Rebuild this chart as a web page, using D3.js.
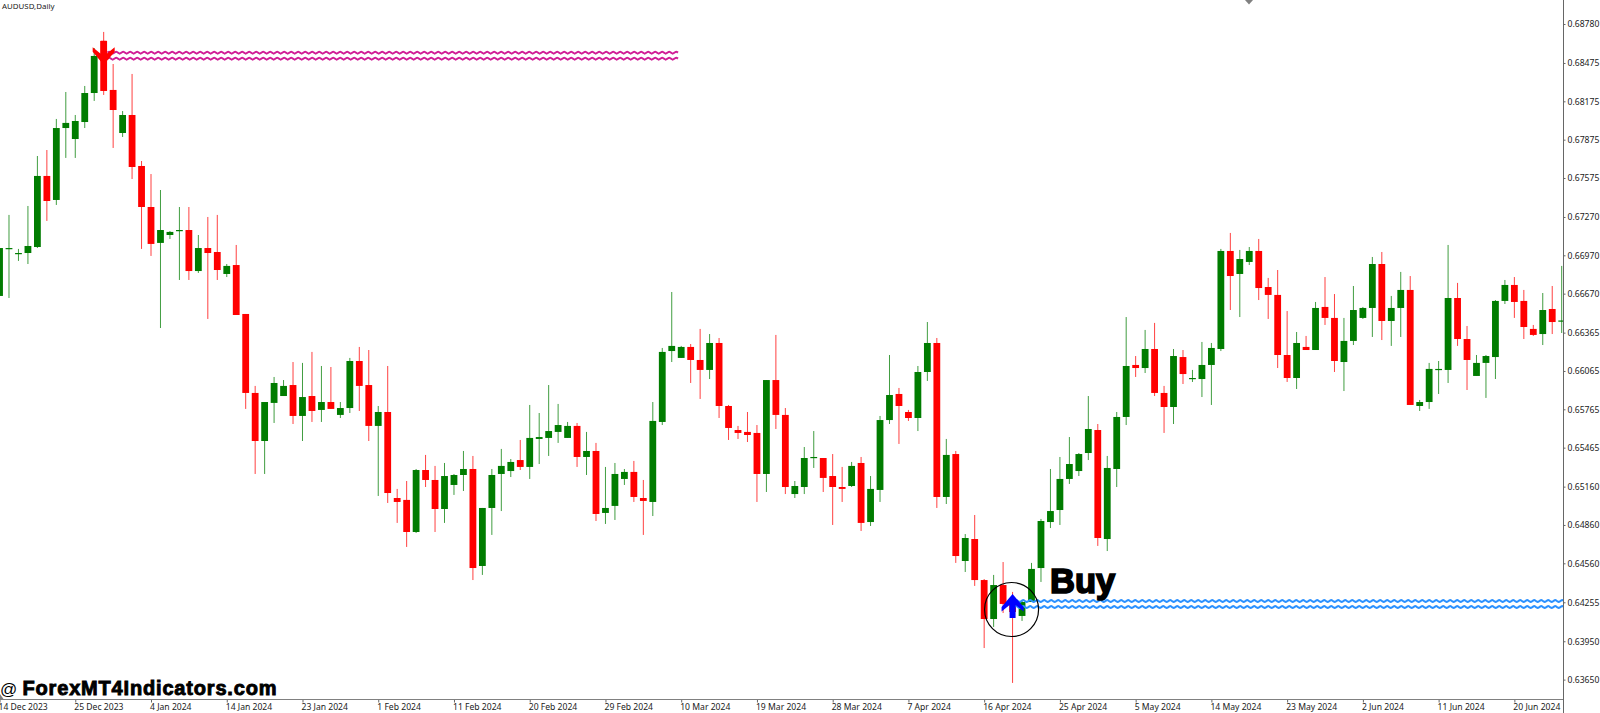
<!DOCTYPE html>
<html><head><meta charset="utf-8">
<script src="https://cdn.jsdelivr.net/npm/d3@7"></script>
<style>html,body{margin:0;padding:0;background:#fff;overflow:hidden}svg{display:block}</style>
</head><body><div id="chart"></div>
<script>
// Daily prices in points (1 point = 0.00001)
const opens=[66652,67020,66980,66988,67035,67591,67403,67966,67880,68013,68240,68647,68264,67927,68068,67669,67348,67067,67129,67160,67168,66847,67027,66996,66824,66894,66511,65893,65517,65815,65869,65955,65713,65869,65760,65822,65721,65775,66143,65955,65635,65744,65071,65056,64805,65290,65212,64985,65173,65251,65298,64539,64993,65259,65282,65368,65314,65533,65541,65588,65541,65635,65392,65439,64954,65009,65220,65275,65071,65040,65666,66221,66167,66253,66151,66073,66284,65791,65603,65588,65580,65259,65994,65721,65102,65157,65384,65384,65243,65157,65165,65345,64883,65134,65681,65885,65744,65697,66057,66284,65079,65415,64578,64750,64429,64124,64390,64249,64148,64257,64523,64883,64977,65220,65282,65423,65603,64750,65298,65705,66112,66088,66237,65893,65783,66174,66002,66002,66112,66237,67004,66824,66918,67004,66722,66660,66190,66010,66253,66229,66566,66480,66135,66300,66480,66558,66902,66456,66558,66699,65791,65822,66073,66073,66636,66315,66026,66128,66174,66613,66738,66613,66394,66354,66550,66452];
const highs=[67027,67286,67020,67356,67747,67794,68037,68248,68068,68295,68592,68718,68467,68099,68389,67708,67606,67481,67160,67348,67348,67129,67270,67286,66902,67051,66511,65948,65822,66018,65994,66135,66128,66214,66104,66096,65822,66167,66253,66229,65791,66104,65142,65204,65298,65408,65322,65345,65259,65439,65400,64993,65298,65455,65376,65525,65799,65736,65955,65807,65666,65658,65588,65502,65314,65345,65298,65361,65212,65822,66245,66683,66261,66276,66394,66354,66323,65799,65635,65744,65642,65994,66347,65775,65204,65470,65595,65384,65415,65314,65353,65392,65243,65713,66190,65932,65760,66104,66448,66323,65533,65439,64789,64938,64437,64469,64570,64336,64273,64563,64907,65298,65392,65548,65423,65869,65650,65400,65744,66487,66182,66386,66441,65948,66237,66229,66073,66292,66284,67020,67145,67012,67035,67098,66793,66855,66534,66370,66339,66605,66800,66667,66480,66730,66566,66957,66996,66652,66840,66808,65838,66128,66143,67051,66754,66417,66190,66190,66620,66777,66800,66699,66425,66675,66730,66887];
const lows=[66652,66636,66926,66902,67027,67239,67364,67732,67732,67966,68178,68225,67810,67896,67567,67020,66965,66401,67098,66777,66777,66832,66472,66777,66800,66503,65768,65259,65259,65658,65869,65650,65517,65666,65666,65768,65697,65736,65752,65517,65087,65032,64876,64688,64797,65157,64805,64876,65095,65126,64429,64469,64782,64969,65235,65290,65220,65337,65400,65502,65541,65314,65251,64891,64868,64899,65173,65040,64782,64930,65642,66135,66167,65971,65846,66002,65697,65525,65533,65509,65040,65118,65611,65102,65071,65102,65306,65118,64860,65040,65157,64813,64852,65040,65650,65494,65674,65595,65987,64993,65024,64563,64492,64383,63897,64062,64171,63624,64109,64257,64414,64836,64860,65181,65243,65368,64696,64656,65157,65642,66018,66049,65869,65580,65650,65963,65979,65861,65799,66221,66542,66487,66894,66620,66472,66088,65979,65924,66229,66229,66425,66057,65908,66268,66472,66331,66307,66261,66331,65799,65752,65768,65885,65971,66261,65916,66026,65854,66002,66589,66480,66315,66339,66268,66354,66362];
const closes=[67027,67027,66988,67043,67591,67395,67966,68006,68021,68240,68530,68256,68107,68068,67661,67348,67059,67168,67153,67168,66847,67027,66988,66855,66887,66503,65893,65517,65822,65971,65948,65713,65861,65752,65822,65768,65775,66143,65948,65635,65744,65110,65040,64805,65290,65212,64985,65243,65251,65298,64523,64993,65251,65322,65353,65314,65541,65548,65595,65642,65635,65392,65439,64946,64993,65259,65275,65079,65048,65674,66214,66261,66253,66151,66073,66284,65791,65619,65580,65564,65259,65994,65721,65157,65165,65384,65392,65228,65157,65142,65322,64876,65142,65681,65877,65791,65697,66057,66284,65079,65408,64617,64758,64429,64124,64390,64242,64179,64257,64516,64891,64969,65220,65337,65415,65611,64758,65306,65705,66104,66088,66237,65893,65783,66182,66041,66010,66112,66245,67004,66808,66941,67004,66714,66660,66190,66010,66284,66229,66558,66480,66143,66300,66542,66558,66902,66456,66558,66699,65799,65822,66081,66081,66636,66315,66151,66128,66182,66613,66738,66605,66409,66347,66542,66448,66460];
// Axis labels
const priceTicks=[68780,68475,68175,67875,67575,67270,66970,66670,66365,66065,65765,65465,65160,64860,64560,64255,63950,63650];
const dateLabels=["14 Dec 2023","25 Dec 2023","4 Jan 2024","14 Jan 2024","23 Jan 2024","1 Feb 2024","11 Feb 2024","20 Feb 2024","29 Feb 2024","10 Mar 2024","19 Mar 2024","28 Mar 2024","7 Apr 2024","16 Apr 2024","25 Apr 2024","5 May 2024","14 May 2024","23 May 2024","2 Jun 2024","11 Jun 2024","20 Jun 2024"];
const dateTickIdx=dateLabels.map((_,i)=>i*8);
// Indicator levels
const sellLevels=[68556,68509], buyLevels=[64265,64218];
const sellSpan=[11.4,71.8], buySpan=[107.2,165.5];
const sellIdx=11, sellPrice=68462, buyIdx=107, buyPrice=64320;

const W=1600,H=713,axisX=1563.5,axisY=699.5;
const x=d3.scaleLinear().domain([0,165]).range([-0.47,1561.7]);
const y=d3.scaleLinear().domain([68780,63650]).range([24,679.6]);
const GREEN="#007c00",RED="#ff0000";
const svg=d3.select("#chart").append("svg").attr("width",W).attr("height",H).attr("viewBox",`0 0 ${W} ${H}`);
svg.append("defs").append("clipPath").attr("id","plot").append("rect").attr("x",0).attr("y",0).attr("width",axisX).attr("height",axisY);
const plot=svg.append("g").attr("clip-path","url(#plot)");
const data=opens.map((o,i)=>({i,o,h:highs[i],l:lows[i],c:closes[i],up:closes[i]>=o}));
const col=d=>d.up?GREEN:RED;

plot.append("g").selectAll("line").data(data).join("line")
 .attr("x1",d=>x(d.i)).attr("x2",d=>x(d.i)).attr("y1",d=>y(d.h)).attr("y2",d=>y(d.l))
 .attr("stroke",col).attr("stroke-width",1).attr("stroke-opacity",.75);
plot.append("g").selectAll("rect").data(data).join("rect")
 .attr("x",d=>x(d.i)-3.4).attr("width",6.8)
 .attr("y",d=>y(Math.max(d.o,d.c))).attr("height",d=>Math.max(1.2,Math.abs(y(d.o)-y(d.c))))
 .attr("fill",col);

function wave(p,span){
 const x0=x(span[0]),x1=x(span[1]),yy=y(p),pts=[];
 for(let px=x0,k=0;px<=x1;px+=1.75,k++) pts.push([px,yy+[0,-1,0,1][k%4]]);
 return d3.line().curve(d3.curveMonotoneX)(pts);
}
plot.append("g").selectAll("path").data(sellLevels).join("path").attr("d",p=>wave(p,sellSpan))
 .attr("fill","none").attr("stroke","#d01e96").attr("stroke-width",2);
plot.append("g").selectAll("path").data(buyLevels).join("path").attr("d",p=>wave(p,buySpan))
 .attr("fill","none").attr("stroke","#2a90ff").attr("stroke-width",2);

// signal arrows
const arrow=(px,py,s)=>d3.line()([[0,0],[11,13*s],[11,17.5*s],[3,11*s],[3,24*s],[-3,24*s],[-3,11*s],[-11,17.5*s],[-11,13*s]].map(q=>[px+q[0],py+q[1]]))+"Z";
svg.append("path").attr("d",arrow(x(sellIdx),y(sellPrice),-1)).attr("fill",RED);
svg.append("path").attr("d",arrow(x(buyIdx),y(buyPrice),1)).attr("fill","#0000ff");

// circle and labels
svg.append("circle").attr("cx",x(buyIdx)-1).attr("cy",y(64230)+4).attr("r",27).attr("fill","none").attr("stroke","#000").attr("stroke-width",1.2);
svg.append("text").attr("x",1050).attr("y",593).text("Buy").attr("font-family","Liberation Sans").attr("font-weight",700).attr("font-size",34.5).attr("fill","#000").attr("stroke","#000").attr("stroke-width",1.7);
svg.append("text").attr("x",0).attr("y",695).text("@").attr("font-family","Liberation Sans").attr("font-size",17).attr("fill","#000");
svg.append("text").attr("x",22.5).attr("y",695).text("ForexMT4Indicators.com").attr("font-family","Liberation Sans").attr("font-size",20).attr("font-weight",700).attr("fill","#000").attr("stroke","#000").attr("stroke-width",.9).attr("textLength",254).attr("lengthAdjust","spacing");
svg.append("text").attr("x",2).attr("y",9).text("AUDUSD,Daily").attr("font-family","Noto Sans").attr("font-size",7.9).attr("fill","#222");

// axes
const fnt="Noto Sans";
const ya=svg.append("g").attr("transform",`translate(${axisX},0)`).call(d3.axisRight(y).tickValues(priceTicks).tickFormat(d=>(d/1e5).toFixed(5)).tickSize(2).tickPadding(2));
const xa=svg.append("g").attr("transform",`translate(0,${axisY})`).call(d3.axisBottom(x).tickValues(dateTickIdx).tickFormat((d,i)=>dateLabels[i]).tickSize(3).tickPadding(1));
[ya,xa].forEach(a=>{a.selectAll("text").attr("font-family",fnt).attr("font-size",8.6).attr("fill","#222");a.selectAll("line").attr("stroke","#666");a.select(".domain").remove();});
xa.selectAll("text").attr("text-anchor","start").attr("x",-1.5);
svg.append("line").attr("x1",0).attr("x2",axisX).attr("y1",axisY).attr("y2",axisY).attr("stroke","#808080");
svg.append("line").attr("x1",axisX).attr("x2",axisX).attr("y1",0).attr("y2",H).attr("stroke","#666");
// small markers
svg.append("path").attr("d","M1245,0H1253L1249,4.5Z").attr("fill","#808080");
svg.append("path").attr("d","M0,694L3.5,699H0Z").attr("fill","#808080");
</script></body></html>
